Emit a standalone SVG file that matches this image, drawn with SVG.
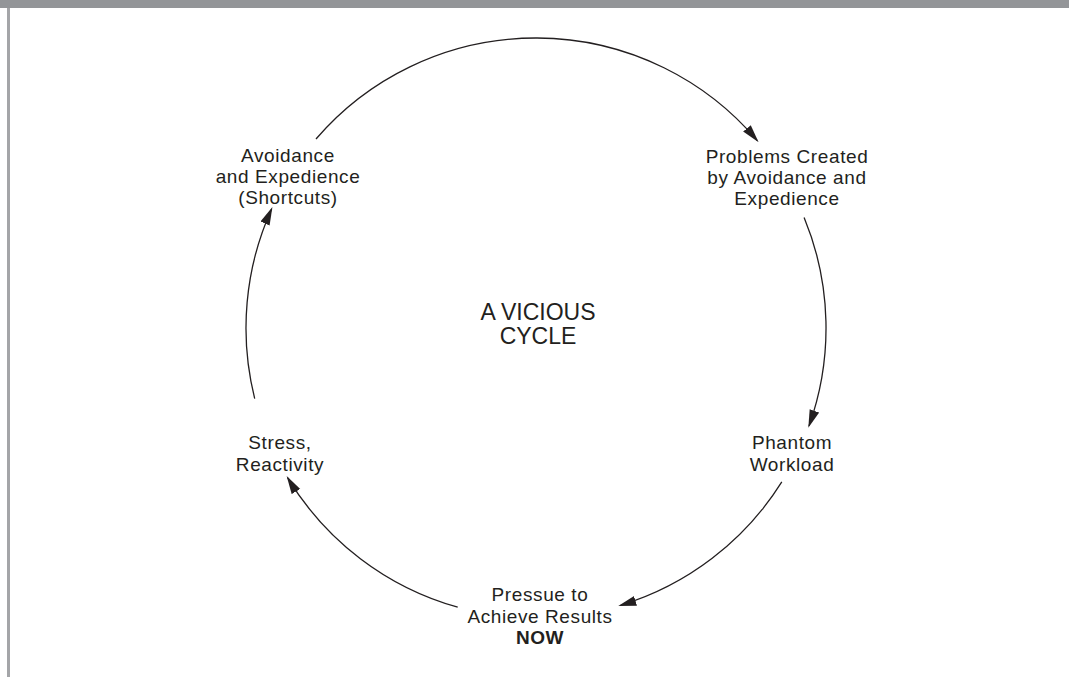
<svg xmlns="http://www.w3.org/2000/svg" width="1069" height="677" viewBox="0 0 1069 677">
<style>
.lbl{font-family:"Liberation Sans",Arial,sans-serif;font-size:19px;fill:#231f20;text-anchor:middle;letter-spacing:0.6px}
.big{font-family:"Liberation Sans",Arial,sans-serif;font-size:23px;fill:#231f20;text-anchor:middle}
.arc{fill:none;stroke:#231f20;stroke-width:1.3}
</style>
<defs>
<marker id="ah" markerUnits="userSpaceOnUse" markerWidth="18" markerHeight="11" viewBox="0 0 18 11" refX="16" refY="5.5" orient="auto">
<path d="M0,0.5 L18,5.5 L0,10.5 z" fill="#231f20"/>
</marker>
</defs>
<rect x="0" y="0" width="1069" height="677" fill="#ffffff"/>
<rect x="0" y="0" width="1069" height="8" fill="#939598"/>
<rect x="7" y="8" width="3" height="669" fill="#a4a5a8"/>
<g id="connectors">
<path class="arc" d="M316,139 A290,290 0 0 1 757.3,140.6" marker-end="url(#ah)"/>
<path class="arc" d="M804.1,217.4 A290,290 0 0 1 809,425.9" marker-end="url(#ah)"/>
<path class="arc" d="M781.8,481.9 A290,290 0 0 1 620.2,605.5" marker-end="url(#ah)"/>
<path class="arc" d="M457.7,607.2 A290,290 0 0 1 287.7,477.8" marker-end="url(#ah)"/>
<path class="arc" d="M254.7,398.6 A290,290 0 0 1 271.6,208.9" marker-end="url(#ah)"/>
</g>
<g id="center">
<text class="big" x="538" y="320">A VICIOUS</text>
<text class="big" x="538" y="344">CYCLE</text>
</g>
<g id="avoidance">
<text class="lbl" x="288" y="162">Avoidance</text>
<text class="lbl" x="288" y="183">and Expedience</text>
<text class="lbl" x="288" y="204">(Shortcuts)</text>
</g>
<g id="problems">
<text class="lbl" x="787" y="163">Problems Created</text>
<text class="lbl" x="787" y="184">by Avoidance and</text>
<text class="lbl" x="787" y="205">Expedience</text>
</g>
<g id="phantom">
<text class="lbl" x="792" y="449">Phantom</text>
<text class="lbl" x="792" y="471">Workload</text>
</g>
<g id="pressure">
<text class="lbl" x="540" y="601">Pressue to</text>
<text class="lbl" x="540" y="623">Achieve Results</text>
<text class="lbl" x="540" y="644" font-weight="bold">NOW</text>
</g>
<g id="stress">
<text class="lbl" x="280" y="449">Stress,</text>
<text class="lbl" x="280" y="471">Reactivity</text>
</g>
</svg>
